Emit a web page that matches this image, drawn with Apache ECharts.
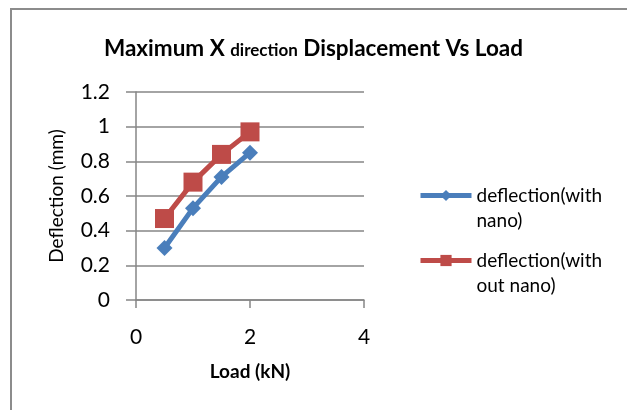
<!DOCTYPE html>
<html>
<head>
<meta charset="utf-8">
<script src="https://cdn.jsdelivr.net/npm/echarts@6/dist/echarts.min.js"></script>
<style>
  html, body { margin: 0; padding: 0; background: #fff; }
  #chart { width: 627px; height: 410px; }
</style>
</head>
<body>
<div id="chart"></div>
<script>
const loads = [0.5, 1, 1.5, 2];
const withNano = [0.30, 0.53, 0.71, 0.85];
const withoutNano = [0.47, 0.68, 0.84, 0.97];
const seriesNames = ['deflection(with nano)', 'deflection(with out nano)'];

const font = 'Lato, "Open Sans", sans-serif';
const axisGrey = '#868686';

const chart = echarts.init(document.getElementById('chart'));

const option = {
  backgroundColor: '#fff',
  animation: false,
  textStyle: { fontFamily: font, color: '#000' },
  graphic: [{
    type: 'polyline',
    shape: { points: [[11, 420], [11, 9], [640, 9]] },
    style: { stroke: '#8c8c8c', lineWidth: 2, fill: null }
  }],
  title: {
    left: 'center',
    top: 32,
    text: '{a|Maximum X }{b|direction}{a| Displacement Vs Load}',
    textStyle: {
      rich: {
        a: { fontFamily: font, fontSize: 22.5, fontWeight: 'bold', color: '#000', verticalAlign: 'bottom' },
        b: { fontFamily: font, fontSize: 17, fontWeight: 'bold', color: '#000', verticalAlign: 'bottom', padding: [0, 0, 1, 0] }
      }
    }
  },
  legend: {
    orient: 'vertical',
    left: 413,
    top: 153,
    itemWidth: 51,
    itemHeight: 14,
    itemGap: -10,
    data: seriesNames,
    // blank first line keeps the icon level with the first text line
    formatter: name => ' \n' + name.replace('(with ', '(with\n'),
    lineStyle: { width: 5 },
    textStyle: { fontFamily: font, fontSize: 19, color: '#000', lineHeight: 25 }
  },
  grid: { left: 136, right: 263, top: 92, bottom: 110 },
  xAxis: {
    type: 'value',
    min: 0,
    max: 4,
    interval: 2,
    name: 'Load (kN)',
    nameLocation: 'middle',
    nameGap: 62,
    nameTextStyle: { fontFamily: font, fontSize: 19, fontWeight: 'bold', color: '#000' },
    axisLine: { show: true, lineStyle: { color: axisGrey, width: 1.5 } },
    axisTick: { show: true, length: 8, lineStyle: { color: axisGrey, width: 1.5 } },
    axisLabel: { fontFamily: font, fontSize: 21, color: '#000', margin: 27 },
    splitLine: { show: false }
  },
  yAxis: {
    type: 'value',
    min: 0,
    max: 1.2,
    interval: 0.2,
    name: 'Deflection (mm)',
    nameLocation: 'middle',
    nameGap: 70,
    nameTextStyle: { fontFamily: font, fontSize: 19, color: '#000' },
    axisLine: { show: true, lineStyle: { color: axisGrey, width: 1.5 } },
    axisTick: { show: true, length: 10, lineStyle: { color: axisGrey, width: 1.5 } },
    axisLabel: { fontFamily: font, fontSize: 21, color: '#000', margin: 26 },
    splitLine: { show: true, lineStyle: { color: axisGrey, width: 1.5 } }
  },
  series: [
    {
      name: seriesNames[0],
      type: 'line',
      data: loads.map((x, i) => [x, withNano[i]]),
      symbol: 'diamond',
      symbolSize: 16,
      showAllSymbol: true,
      color: '#4A7EBB',
      lineStyle: { color: '#4A7EBB', width: 5 },
      itemStyle: { color: '#4A7EBB' },
      z: 3
    },
    {
      name: seriesNames[1],
      type: 'line',
      data: loads.map((x, i) => [x, withoutNano[i]]),
      symbol: 'rect',
      symbolSize: 19,
      showAllSymbol: true,
      color: '#BE4B48',
      lineStyle: { color: '#BE4B48', width: 5 },
      itemStyle: { color: '#BE4B48' },
      z: 2
    }
  ]
};

chart.setOption(option);
</script>
</body>
</html>
